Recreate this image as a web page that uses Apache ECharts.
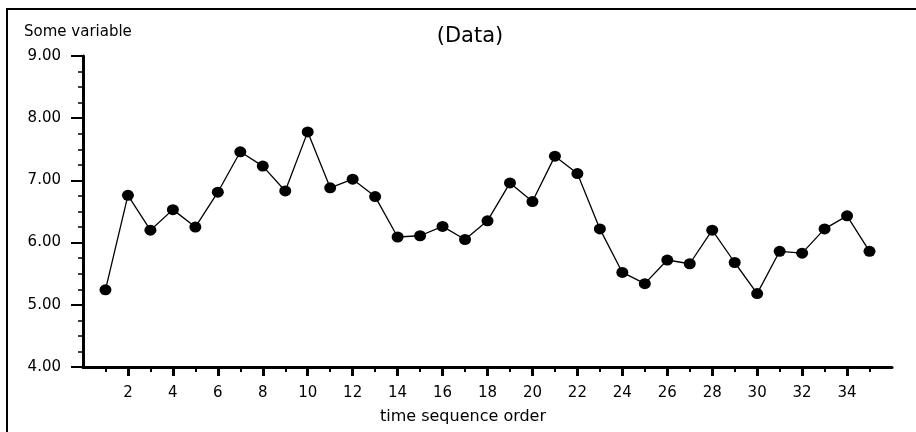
<!DOCTYPE html>
<html>
<head>
<meta charset="utf-8">
<script src="https://cdn.jsdelivr.net/npm/echarts@6/dist/echarts.min.js"></script>
<style>
  html, body { margin: 0; padding: 0; background: #fff; }
  #wrap { position: relative; width: 916px; height: 432px; overflow: hidden; }
  #frame { position: absolute; left: 6px; top: 8px; width: 940px; height: 460px;
           border-left: 2px solid #000; border-top: 2px solid #000; pointer-events: none; }
  #chart { position: absolute; left: 0; top: 0; width: 916px; height: 432px; }
</style>
</head>
<body>
<div id="wrap">
  <div id="chart"></div>
  <div id="frame"></div>
</div>
<script>
// ---- data ----
const seqOrder = [1,2,3,4,5,6,7,8,9,10,11,12,13,14,15,16,17,18,19,20,21,22,23,24,25,26,27,28,29,30,31,32,33,34,35];
const values = [5.24,6.76,6.20,6.53,6.25,6.81,7.46,7.23,6.83,7.78,6.88,7.02,6.74,6.09,6.11,6.26,6.05,6.35,6.96,6.66,7.39,7.11,6.22,5.52,5.34,5.72,5.66,6.20,5.68,5.18,5.86,5.83,6.22,6.43,5.86];
const xMajorTicks = [2,4,6,8,10,12,14,16,18,20,22,24,26,28,30,32,34];
const xMinorTicks = [1,3,5,7,9,11,13,15,17,19,21,23,25,27,29,31,33,35];
const yTickLabels = ["4.00","5.00","6.00","7.00","8.00","9.00"];
const titleText = "(Data)";
const yName = "Some variable";
const xName = "time sequence order";

const FONT = "DejaVu Sans";
const chart = echarts.init(document.getElementById('chart'), null, { renderer: 'canvas' });

const points = seqOrder.map((x, i) => [x, values[i]]);

chart.setOption({
  animation: false,
  backgroundColor: 'transparent',
  title: [
    { text: titleText, left: 470, top: 26, textAlign: 'center', padding: 0,
      textStyle: { fontFamily: FONT, fontSize: 21, fontWeight: 'normal', color: '#000' } },
    { text: yName, left: 24, top: 25, padding: 0,
      textStyle: { fontFamily: FONT, fontSize: 15, fontWeight: 'normal', color: '#000' } },
    { text: xName, left: 463, top: 409, textAlign: 'center', padding: 0,
      textStyle: { fontFamily: FONT, fontSize: 16, fontWeight: 'normal', color: '#000' } }
  ],
  grid: { left: 83, right: 24, top: 56, bottom: 65, outerBoundsMode: 'none', containLabel: false },
  xAxis: [
    {
      type: 'value', min: 0, max: 36, interval: 2,
      axisLine: { show: true, onZero: false, lineStyle: { color: '#000', width: 3 } },
      axisTick: { show: true, customValues: xMajorTicks, length: 9, lineStyle: { color: '#000', width: 3 } },
      axisLabel: { show: true, customValues: xMajorTicks, margin: 19, formatter: v => String(v),
                   fontFamily: FONT, fontSize: 15, color: '#000' },
      splitLine: { show: false }
    },
    {
      type: 'value', min: 0, max: 36, interval: 1, position: 'bottom',
      axisLine: { show: false },
      axisTick: { show: true, customValues: xMinorTicks, length: 5, lineStyle: { color: '#000', width: 2 } },
      axisLabel: { show: false },
      splitLine: { show: false }
    }
  ],
  yAxis: {
    type: 'value', min: 4, max: 9, interval: 1,
    axisLine: { show: true, onZero: false, lineStyle: { color: '#000', width: 3 } },
    axisTick: { show: true, length: 12, lineStyle: { color: '#000', width: 2 } },
    minorTick: { show: true, splitNumber: 4, length: 5, lineStyle: { color: '#000', width: 1.5 } },
    axisLabel: { margin: 22, formatter: (v) => yTickLabels[Math.round(v - 4)] || v.toFixed(2),
                 fontFamily: FONT, fontSize: 15, color: '#000' },
    splitLine: { show: false }
  },
  series: [{
    type: 'line',
    xAxisIndex: 0,
    data: points,
    symbol: 'circle',
    symbolSize: [12, 11],
    itemStyle: { color: '#000' },
    lineStyle: { color: '#000', width: 1.3 },
    z: 5
  }]
});
</script>
</body>
</html>
